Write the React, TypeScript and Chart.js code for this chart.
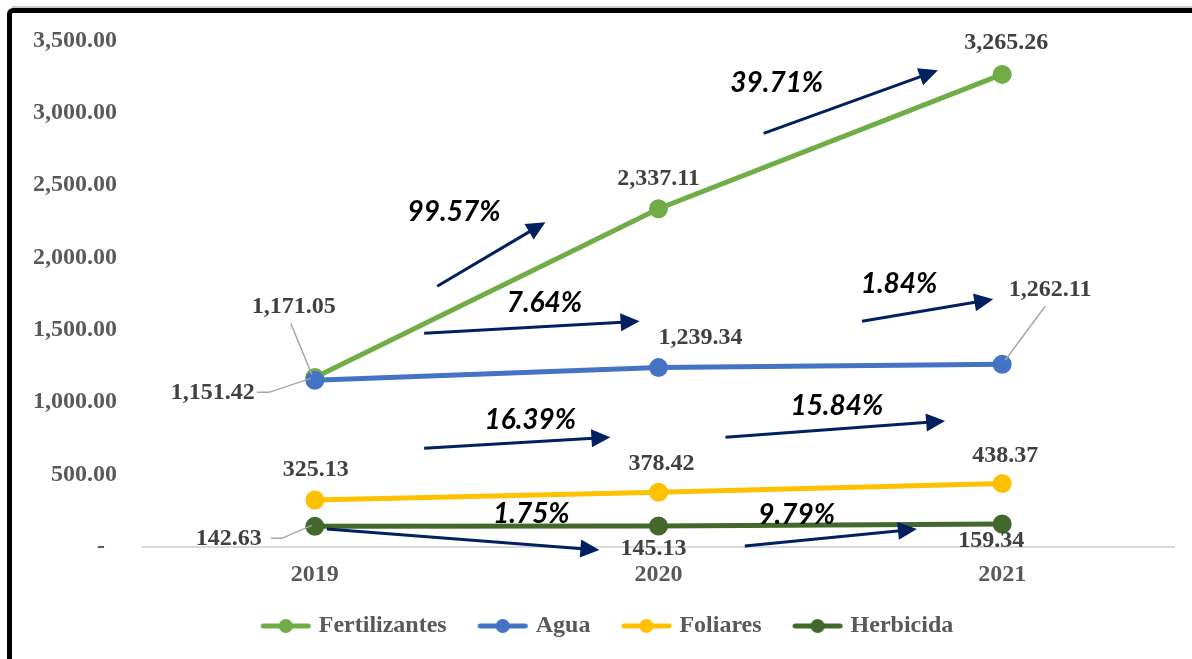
import React, { useEffect, useRef } from 'react';
import { Chart, registerables } from 'chart.js';

Chart.register(...registerables);

// ---------- data ----------
const years = ['2019', '2020', '2021'];
const seriesNames = ['Fertilizantes', 'Agua', 'Foliares', 'Herbicida'];
const fertilizantes = [1171.05, 2337.11, 3265.26];
const agua = [1151.42, 1239.34, 1262.11];
const foliares = [325.13, 378.42, 438.37];
const herbicida = [142.63, 145.13, 159.34];
const yMin = 0;
const yMax = 3500;
const yStep = 500;

// growth annotations (text + arrow endpoints in data space: [category index, value])
const growthLabels = ['99.57%', '39.71%', '7.64%', '1.84%', '16.39%', '15.84%', '1.75%', '9.79%'];
const growthTextAt = [[0.405, 2313], [1.344, 3203], [0.668, 1684], [1.7, 1816], [0.627, 877], [1.519, 973], [0.63, 228], [1.402, 221]];
const arrowFrom = [[0.356, 1802], [1.306, 2858], [0.318, 1477], [1.592, 1560], [0.318, 683], [1.195, 759], [0.035, 124], [1.251, 7]];
const arrowTo = [[0.671, 2244], [1.813, 3293], [0.945, 1560], [1.974, 1712], [0.86, 759], [1.834, 870], [0.828, -21], [1.752, 124]];

// ---------- styles ----------
const seriesColors = ['#70AD47', '#4472C4', '#FFC000', '#43682B'];
const arrowColor = '#002060';
const serif = '"Liberation Serif", "Times New Roman", serif';
const labelOffsets = [
  [[-21, -71], [0, -30], [4, -32]],
  [[-102, 12], [42, -30], [48, -75]],
  [[1, -30], [3, -28], [3, -28]],
  [[-86, 12], [-5, 23], [-11, 17]],
];
const leaders: { s: number; i: number; path: number[][] }[] = [
  { s: 0, i: 0, path: [[-24, -54], [-3, -3]] },
  { s: 1, i: 0, path: [[-58, 12], [-46, 12], [-4, -2]] },
  { s: 3, i: 0, path: [[-44, 12], [-33, 12], [-3, -1]] },
  { s: 1, i: 2, path: [[43, -58], [3, -4]] },
];

const fmt = (v: number) => v.toLocaleString('en-US', { minimumFractionDigits: 2, maximumFractionDigits: 2 });

function legendSwatch(color: string) {
  const c = document.createElement('canvas');
  c.width = 60;
  c.height = 16;
  const g = c.getContext('2d')!;
  g.strokeStyle = color;
  g.lineWidth = 5;
  g.lineCap = 'round';
  g.beginPath();
  g.moveTo(6.5, 8);
  g.lineTo(51.5, 8);
  g.stroke();
  g.fillStyle = color;
  g.beginPath();
  g.arc(29, 8, 7, 0, Math.PI * 2);
  g.fill();
  return c;
}

const annotationPlugin = {
  id: 'growthAnnotations',
  afterDatasetsDraw(chart: any) {
    const { ctx, scales } = chart;
    const xs = scales.x;
    const ys = scales.y;
    ctx.save();
    // arrows
    for (let k = 0; k < arrowFrom.length; k++) {
      const x1 = xs.getPixelForValue(arrowFrom[k][0]);
      const y1 = ys.getPixelForValue(arrowFrom[k][1]);
      const x2 = xs.getPixelForValue(arrowTo[k][0]);
      const y2 = ys.getPixelForValue(arrowTo[k][1]);
      const a = Math.atan2(y2 - y1, x2 - x1);
      const head = 19;
      const hw = 9;
      const bx = x2 - head * Math.cos(a);
      const by = y2 - head * Math.sin(a);
      ctx.strokeStyle = arrowColor;
      ctx.lineWidth = 3;
      ctx.beginPath();
      ctx.moveTo(x1, y1);
      ctx.lineTo(bx + 2 * Math.cos(a), by + 2 * Math.sin(a));
      ctx.stroke();
      ctx.fillStyle = arrowColor;
      ctx.beginPath();
      ctx.moveTo(x2, y2);
      ctx.lineTo(bx + hw * Math.sin(a), by - hw * Math.cos(a));
      ctx.lineTo(bx - hw * Math.sin(a), by + hw * Math.cos(a));
      ctx.closePath();
      ctx.fill();
    }
    // growth texts
    ctx.font = 'italic bold 28px Lato, "Open Sans", sans-serif';
    ctx.fillStyle = '#000000';
    ctx.textAlign = 'center';
    ctx.textBaseline = 'middle';
    for (let k = 0; k < growthLabels.length; k++) {
      ctx.fillText(growthLabels[k], xs.getPixelForValue(growthTextAt[k][0]), ys.getPixelForValue(growthTextAt[k][1]));
    }
    // leader lines
    ctx.strokeStyle = '#A6A6A6';
    ctx.lineWidth = 1.5;
    for (const l of leaders) {
      const p = chart.getDatasetMeta(l.s).data[l.i];
      ctx.beginPath();
      l.path.forEach((d, j) => {
        if (j === 0) ctx.moveTo(p.x + d[0], p.y + d[1]);
        else ctx.lineTo(p.x + d[0], p.y + d[1]);
      });
      ctx.stroke();
    }
    // data labels
    ctx.font = `bold 24px ${serif}`;
    ctx.fillStyle = '#404040';
    chart.data.datasets.forEach((ds: any, di: number) => {
      const meta = chart.getDatasetMeta(di);
      meta.data.forEach((pt: any, i: number) => {
        const o = labelOffsets[di][i];
        ctx.fillText(fmt(ds.data[i]), pt.x + o[0], pt.y + o[1]);
      });
    });
    ctx.restore();
  },
};

export default function App() {
  const ref = useRef<HTMLCanvasElement>(null);
  useEffect(() => {
    const seriesData = [fertilizantes, agua, foliares, herbicida];
    const chart = new Chart(ref.current!, {
      type: 'line',
      data: {
        labels: years,
        datasets: seriesNames.map((name, i) => ({
          label: name,
          data: seriesData[i],
          borderColor: seriesColors[i],
          backgroundColor: seriesColors[i],
          pointBackgroundColor: seriesColors[i],
          pointBorderColor: seriesColors[i],
          borderWidth: 5,
          pointRadius: 7,
          pointStyle: 'circle',
          tension: 0,
          order: 4 - i,
        })),
      },
      options: {
        responsive: false,
        animation: false,
        layout: { padding: { top: 40, right: 18, left: 46, bottom: 11 } },
        plugins: {
          tooltip: { enabled: false },
          legend: {
            position: 'bottom',
            labels: {
              usePointStyle: true,
              pointStyleWidth: 40,
              padding: 37,
              color: '#595959',
              font: { family: serif, size: 24, weight: 'bold' },
              sort: (a: any, b: any) => a.datasetIndex - b.datasetIndex,
              generateLabels: (chart: any) =>
                chart.data.datasets.map((ds: any, i: number) => ({
                  text: ds.label,
                  datasetIndex: i,
                  pointStyle: legendSwatch(seriesColors[i]),
                  fillStyle: seriesColors[i],
                  strokeStyle: seriesColors[i],
                  lineWidth: 0,
                  hidden: false,
                  fontColor: '#595959',
                })),
            },
          },
        },
        scales: {
          x: {
            offset: true,
            grid: { display: false, drawTicks: false },
            border: { display: true, color: '#D9D9D9', width: 2 },
            afterFit: (s: any) => {
              s.height = 30;
              s._computeLabelArea = () => undefined;
            },
            ticks: { color: '#595959', font: { family: serif, size: 24, weight: 'bold' }, padding: 13 },
          },
          y: {
            min: yMin,
            max: yMax,
            grid: { display: false, drawTicks: false },
            border: { display: false },
            afterFit: (s: any) => {
              s.width = 97;
              s._computeLabelArea = () => undefined;
            },
            ticks: {
              stepSize: yStep,
              padding: 26,
              color: '#595959',
              font: { family: serif, size: 24, weight: 'bold' },
              callback: (v: any) => (v === 0 ? '-  ' : fmt(Number(v))),
            },
          },
        },
      },
      plugins: [annotationPlugin],
    } as any);
    return () => chart.destroy();
  }, []);

  return (
    <div style={{ position: 'fixed', left: 0, top: 0, width: 1192, height: 659, background: '#fff', overflow: 'hidden' }}>
      <canvas ref={ref} width={1192} height={659} style={{ display: 'block', position: 'absolute', left: 0, top: 0 }} />
      <div style={{ position: 'absolute', left: 12, right: 0, top: 6, height: 2, background: '#C8C8C8' }} />
      <div
        style={{
          position: 'absolute',
          left: 7,
          top: 8,
          width: 1300,
          height: 800,
          border: '5px solid #000',
          borderRadius: 6,
          pointerEvents: 'none',
        }}
      />
    </div>
  );
}
